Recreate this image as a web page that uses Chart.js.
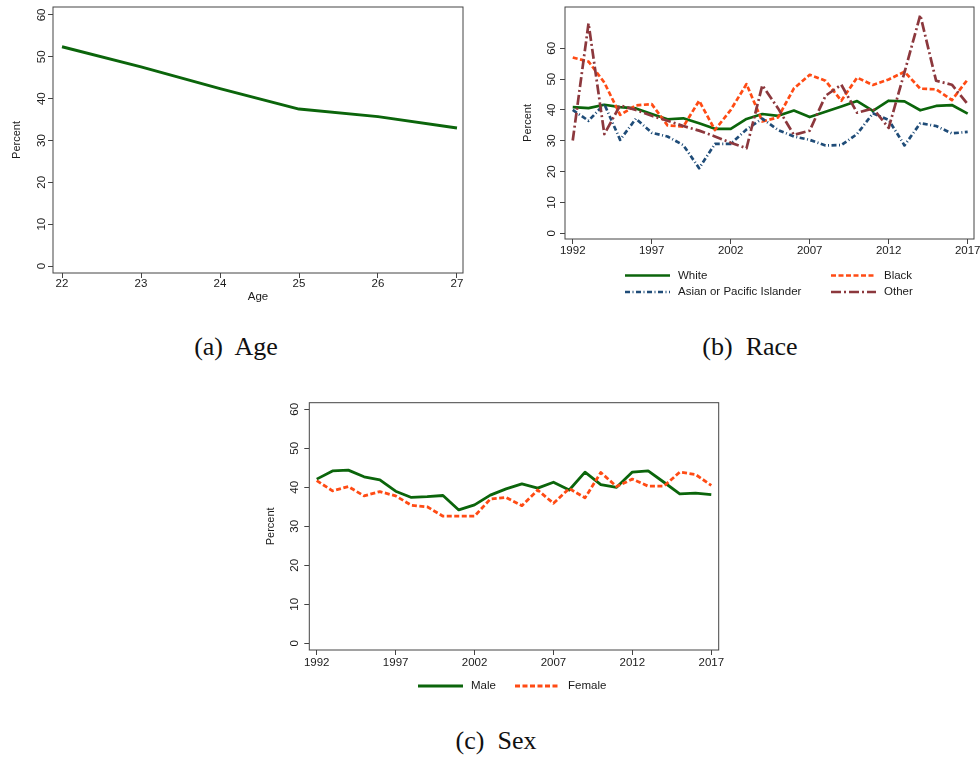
<!DOCTYPE html>
<html>
<head>
<meta charset="utf-8">
<script src="https://cdn.jsdelivr.net/npm/chart.js@4.4.0/dist/chart.umd.min.js"></script>
<style>
  html, body { margin: 0; padding: 0; background: #fff; }
  #page { position: relative; width: 980px; height: 757px; overflow: hidden; background: #fff; }
  #page canvas { position: absolute; }
  .cap {
    position: absolute;
    font-family: "Liberation Serif", "DejaVu Serif", serif;
    font-size: 26px;
    color: #111;
    white-space: pre;
    transform: translate(-50%, -50%);
  }
</style>
</head>
<body>
<div id="page">
  <canvas id="ageChart" width="480" height="310" style="left:0;top:0"></canvas>
  <canvas id="raceChart" width="480" height="310" style="left:500px;top:0"></canvas>
  <canvas id="sexChart" width="480" height="310" style="left:250px;top:390px"></canvas>
  <div class="cap" style="left:236px;top:347px">(a)  Age</div>
  <div class="cap" style="left:750px;top:347px">(b)  Race</div>
  <div class="cap" style="left:496px;top:741px">(c)  Sex</div>
</div>
<script>
// share of each group, in percent
const ages = [22, 23, 24, 25, 26, 27];
const agePct = [52.4, 47.6, 42.4, 37.5, 35.7, 33.0];

const years = [1992, 1993, 1994, 1995, 1996, 1997, 1998, 1999, 2000, 2001, 2002, 2003, 2004,
               2005, 2006, 2007, 2008, 2009, 2010, 2011, 2012, 2013, 2014, 2015, 2016, 2017];
const raceWhite = [40.9, 40.6, 41.7, 40.9, 40.5, 38.7, 37.0, 37.3, 35.7, 33.9, 33.9, 37.1, 38.7,
                   38.1, 39.8, 37.7, 39.4, 41.1, 42.9, 39.7, 43.0, 42.8, 39.9, 41.3, 41.6, 38.8];
const raceBlack = [57.0, 55.7, 48.9, 38.4, 41.5, 41.9, 35.0, 34.6, 43.0, 33.5, 40.0, 48.4, 36.3,
                   37.6, 47.0, 51.4, 49.5, 43.0, 50.5, 48.1, 49.9, 52.4, 46.9, 46.7, 43.2, 49.9];
const raceAsian = [40.0, 36.5, 41.9, 30.3, 37.2, 32.6, 31.4, 28.6, 21.1, 29.0, 29.0, 33.7, 37.2,
                   33.5, 31.4, 30.3, 28.5, 28.6, 32.2, 38.9, 36.8, 28.5, 35.7, 34.8, 32.4, 32.9];
const raceOther = [30.1, 68.1, 32.2, 41.5, 40.0, 38.1, 36.5, 34.8, 33.3, 31.4, 29.4, 27.6, 48.0,
                   40.5, 31.9, 33.3, 44.6, 48.2, 39.1, 40.5, 34.2, 52.2, 70.8, 49.5, 48.2, 41.9];
const sexMale = [42.1, 44.2, 44.4, 42.7, 41.9, 39.0, 37.4, 37.6, 37.9, 34.2, 35.5, 38.0, 39.6,
                 40.9, 39.8, 41.3, 39.3, 43.9, 40.7, 40.0, 43.9, 44.2, 41.3, 38.3, 38.5, 38.1];
const sexFemale = [41.7, 39.1, 40.2, 37.8, 38.9, 37.8, 35.4, 35.0, 32.6, 32.6, 32.6, 37.0, 37.4,
                   35.3, 39.3, 35.9, 39.7, 37.3, 43.8, 40.2, 42.1, 40.3, 40.3, 43.9, 43.3, 40.5];

const pctTicks = [0, 10, 20, 30, 40, 50, 60];
const ageTicks = [22, 23, 24, 25, 26, 27];
const yearTicks = [1992, 1997, 2002, 2007, 2012, 2017];

const SANS = '"Liberation Sans", Arial, Helvetica, sans-serif';
const INK = '#1a1a1a';
const FRAME = '#444';
const GREEN = '#0b650b';
const ORANGE = '#ff4b14';
const NAVY = '#1f4c78';
const MAROON = '#8c383d';

const points = (xs, ys) => xs.map((x, i) => ({ x: x, y: ys[i] }));

// box around the plot region, upright y labels rotated like Stata, and a grid legend
const stataFrame = {
  id: 'stataFrame',
  afterDraw(chart, args, opts) {
    const ctx = chart.ctx;
    const a = chart.chartArea;
    const y = chart.scales.y;
    ctx.save();
    ctx.strokeStyle = FRAME;
    ctx.lineWidth = 1;
    ctx.strokeRect(a.left, a.top, a.right - a.left, a.bottom - a.top);

    ctx.fillStyle = INK;
    ctx.font = '11.5px ' + SANS;
    ctx.textAlign = 'center';
    ctx.textBaseline = 'middle';
    y.ticks.forEach(t => {
      ctx.save();
      ctx.translate(a.left - opts.labelGap, y.getPixelForValue(t.value));
      ctx.rotate(-Math.PI / 2);
      ctx.fillText(String(t.value), 0, 0);
      ctx.restore();
    });

    (opts.legend || []).forEach((p, i) => {
      const ds = chart.data.datasets[i];
      ctx.strokeStyle = ds.borderColor;
      ctx.lineWidth = ds.borderWidth;
      ctx.setLineDash(ds.borderDash || []);
      ctx.beginPath();
      ctx.moveTo(p[0], p[1]);
      ctx.lineTo(p[0] + 45, p[1]);
      ctx.stroke();
      ctx.setLineDash([]);
      ctx.textAlign = 'left';
      ctx.fillText(ds.label, p[0] + 53, p[1]);
    });
    ctx.restore();
  }
};

function stataChart(id, cfg) {
  const tickGrid = { drawOnChartArea: false, drawTicks: true, tickLength: 5, color: FRAME, lineWidth: 1 };
  return new Chart(document.getElementById(id), {
    type: 'line',
    data: { datasets: cfg.datasets },
    options: {
      responsive: false,
      animation: false,
      devicePixelRatio: 1,
      layout: { padding: cfg.padding },
      elements: {
        point: { radius: 0 },
        line: { tension: 0, fill: false, borderCapStyle: 'butt', borderJoinStyle: 'round' }
      },
      plugins: {
        legend: { display: false },
        tooltip: { enabled: false },
        stataFrame: { labelGap: cfg.labelGap, legend: cfg.legend }
      },
      scales: {
        x: {
          type: 'linear',
          min: cfg.xMin,
          max: cfg.xMax,
          afterBuildTicks: s => { s.ticks = cfg.xTicks.map(v => ({ value: v })); },
          afterFit: s => { s.height = 30; s.paddingLeft = 0; s.paddingRight = 0; },
          grid: tickGrid,
          border: { display: false },
          ticks: {
            autoSkip: false, maxRotation: 0, color: INK, padding: cfg.xTickPad,
            font: { family: SANS, size: 11.5, lineHeight: 1 },
            callback: v => String(v)
          },
          title: {
            display: !!cfg.xTitle, text: cfg.xTitle || '', color: INK,
            font: { family: SANS, size: 11.5, lineHeight: 1 },
            padding: { top: 0, bottom: 0.5 }
          }
        },
        y: {
          min: cfg.yMin,
          max: cfg.yMax,
          afterBuildTicks: s => { s.ticks = pctTicks.map(v => ({ value: v })); },
          afterFit: s => { s.width = cfg.yWidth; s.paddingTop = 0; s.paddingBottom = 0; },
          grid: tickGrid,
          border: { display: false },
          ticks: { display: false },
          title: {
            display: true, text: 'Percent', color: INK,
            font: { family: SANS, size: 11, lineHeight: 1 },
            padding: { top: cfg.yTitlePad, bottom: 0 }
          }
        }
      }
    },
    plugins: [stataFrame]
  });
}

stataChart('ageChart', {
  datasets: [
    { label: 'Age', data: points(ages, agePct), borderColor: GREEN, borderWidth: 3 }
  ],
  padding: { left: 0, top: 7, right: 17, bottom: 7 },
  yWidth: 53, yTitlePad: 11, labelGap: 11.5,
  xMin: 21.886, xMax: 27.076, yMin: -1.67, yMax: 61.9,
  xTicks: ageTicks, xTickPad: 0.3, xTitle: 'Age'
});

stataChart('raceChart', {
  datasets: [
    { label: 'White', data: points(years, raceWhite), borderColor: GREEN, borderWidth: 2.7, order: 4 },
    { label: 'Black', data: points(years, raceBlack), borderColor: ORANGE, borderWidth: 2.7, borderDash: [5, 2.5], order: 3 },
    { label: 'Asian or Pacific Islander', data: points(years, raceAsian), borderColor: NAVY, borderWidth: 2.7, borderDash: [5, 2.5, 1, 2.5], order: 2 },
    { label: 'Other', data: points(years, raceOther), borderColor: MAROON, borderWidth: 2.7, borderDash: [10, 3, 2, 3], order: 1 }
  ],
  padding: { left: 0, top: 7, right: 6, bottom: 41 },
  yWidth: 65, yTitlePad: 22, labelGap: 13,
  xMin: 1991.51, xMax: 2017.4, yMin: -1.85, yMax: 73.4,
  xTicks: yearTicks, xTickPad: 1.5,
  legend: [[125, 275.5], [331, 275.5], [125, 292], [331, 292]]
});

stataChart('sexChart', {
  datasets: [
    { label: 'Male', data: points(years, sexMale), borderColor: GREEN, borderWidth: 2.8, order: 2 },
    { label: 'Female', data: points(years, sexFemale), borderColor: ORANGE, borderWidth: 2.8, borderDash: [5, 2.5], order: 1 }
  ],
  padding: { left: 0, top: 12.7, right: 11.3, bottom: 20 },
  yWidth: 59.3, yTitlePad: 15.5, labelGap: 14,
  xMin: 1991.53, xMax: 2017.47, yMin: -1.72, yMax: 61.7,
  xTicks: yearTicks, xTickPad: 1.7,
  legend: [[168, 296], [265, 296]]
});
</script>
</body>
</html>
